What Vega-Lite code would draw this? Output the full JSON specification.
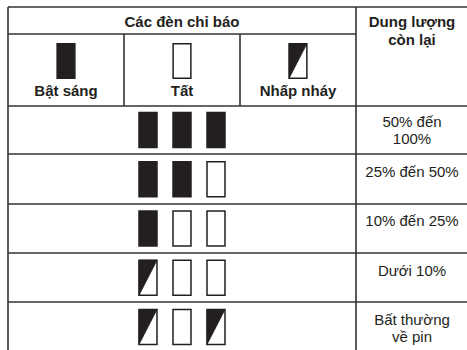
{
  "$schema": "https://vega.github.io/schema/vega-lite/v6.json",
  "width": 467,
  "height": 350,
  "autosize": "none",
  "padding": 0,
  "background": "#ffffff",
  "config": {"view": {"stroke": null}},
  "datasets": {
    "borders": [
      {"c1": 0, "c2": 4, "r1": 0, "r2": 0},
      {"c1": 0, "c2": 3, "r1": 1, "r2": 1},
      {"c1": 0, "c2": 4, "r1": 2, "r2": 2},
      {"c1": 0, "c2": 4, "r1": 3, "r2": 3},
      {"c1": 0, "c2": 4, "r1": 4, "r2": 4},
      {"c1": 0, "c2": 4, "r1": 5, "r2": 5},
      {"c1": 0, "c2": 4, "r1": 6, "r2": 6},
      {"c1": 0, "c2": 0, "r1": 0, "r2": 7},
      {"c1": 1, "c2": 1, "r1": 1, "r2": 2},
      {"c1": 2, "c2": 2, "r1": 1, "r2": 2},
      {"c1": 3, "c2": 3, "r1": 0, "r2": 7}
    ],
    "titles": [
      {"col": 1, "row": 0, "text": "Các đèn chỉ báo"},
      {"col": 3, "row": 0, "text": "Dung lượng\ncòn lại"}
    ],
    "legend": [
      {"col": 0, "row": 1, "state": "on", "label": "Bật sáng"},
      {"col": 1, "row": 1, "state": "off", "label": "Tất"},
      {"col": 2, "row": 1, "state": "blink", "label": "Nhấp nháy"}
    ],
    "levels": [
      {"col": 3, "row": 2, "text": "50% đến\n100%"},
      {"col": 3, "row": 3, "text": "25% đến 50%"},
      {"col": 3, "row": 4, "text": "10% đến 25%"},
      {"col": 3, "row": 5, "text": "Dưới 10%"},
      {"col": 3, "row": 6, "text": "Bất thường\nvề pin"}
    ],
    "lamps": [
      {"row": 2, "lamp": 1, "state": "on"},
      {"row": 2, "lamp": 2, "state": "on"},
      {"row": 2, "lamp": 3, "state": "on"},
      {"row": 3, "lamp": 1, "state": "on"},
      {"row": 3, "lamp": 2, "state": "on"},
      {"row": 3, "lamp": 3, "state": "off"},
      {"row": 4, "lamp": 1, "state": "on"},
      {"row": 4, "lamp": 2, "state": "off"},
      {"row": 4, "lamp": 3, "state": "off"},
      {"row": 5, "lamp": 1, "state": "blink"},
      {"row": 5, "lamp": 2, "state": "off"},
      {"row": 5, "lamp": 3, "state": "off"},
      {"row": 6, "lamp": 1, "state": "blink"},
      {"row": 6, "lamp": 2, "state": "off"},
      {"row": 6, "lamp": 3, "state": "blink"}
    ]
  },
  "layer": [
    {
      "data": {"name": "borders"},
      "mark": {"type": "rule", "stroke": "#333333", "strokeWidth": 1.6},
      "encoding": {
        "x": {"field": "c1", "type": "quantitative", "axis": null, "scale": {"domain": [0, 4], "range": [8, 472], "zero": false, "nice": false}},
        "x2": {"field": "c2"},
        "y": {"field": "r1", "type": "quantitative", "axis": null, "scale": {"domain": [0, 1, 2, 3, 4, 5, 6, 7], "range": [7, 34, 106, 154, 204, 253, 302, 351], "zero": false, "nice": false}},
        "y2": {"field": "r2"}
      }
    },
    {
      "data": {"name": "titles"},
      "mark": {"type": "text", "font": "Liberation Sans", "fontSize": 15, "fontWeight": "bold", "fill": "#231f20", "align": "center", "baseline": "alphabetic", "lineBreak": "\n", "lineHeight": 18},
      "encoding": {
        "x": {"field": "col", "type": "quantitative", "axis": null, "scale": {"domain": [0, 1, 2, 3], "range": [66, 182, 298, 412], "zero": false, "nice": false}},
        "y": {"field": "row", "type": "quantitative", "axis": null, "scale": {"domain": [0, 1, 2, 6], "range": [27, 96, 127, 325], "zero": false, "nice": false}},
        "text": {"field": "text", "type": "nominal"}
      }
    },
    {
      "data": {"name": "legend"},
      "mark": {"type": "text", "font": "Liberation Sans", "fontSize": 15, "fontWeight": "bold", "fill": "#231f20", "align": "center", "baseline": "alphabetic"},
      "encoding": {
        "x": {"field": "col", "type": "quantitative", "axis": null, "scale": {"domain": [0, 1, 2, 3], "range": [66, 182, 298, 412], "zero": false, "nice": false}},
        "y": {"field": "row", "type": "quantitative", "axis": null, "scale": {"domain": [0, 1, 2, 6], "range": [27, 96, 127, 325], "zero": false, "nice": false}},
        "text": {"field": "label", "type": "nominal"}
      }
    },
    {
      "data": {"name": "levels"},
      "mark": {"type": "text", "font": "Liberation Sans", "fontSize": 15, "fill": "#231f20", "align": "center", "baseline": "alphabetic", "lineBreak": "\n", "lineHeight": 17},
      "encoding": {
        "x": {"field": "col", "type": "quantitative", "axis": null, "scale": {"domain": [0, 1, 2, 3], "range": [66, 182, 298, 412], "zero": false, "nice": false}},
        "y": {"field": "row", "type": "quantitative", "axis": null, "scale": {"domain": [0, 1, 2, 6], "range": [27, 96, 127, 325], "zero": false, "nice": false}},
        "text": {"field": "text", "type": "nominal"}
      }
    },
    {
      "data": {"name": "legend"},
      "mark": {"type": "point", "shape": "M-0.514,-1H0.514V1H-0.514Z", "size": 1190, "filled": true, "stroke": "#231f20", "strokeWidth": 1.5, "opacity": 1},
      "encoding": {
        "x": {"field": "col", "type": "quantitative", "axis": null, "scale": {"domain": [0, 1, 2, 3], "range": [66, 182, 298, 412], "zero": false, "nice": false}},
        "y": {"field": "row", "type": "quantitative", "axis": null, "scale": {"domain": [1, 2, 6], "range": [61, 130, 327], "zero": false, "nice": false}},
        "fill": {"field": "state", "type": "nominal", "legend": null, "scale": {"domain": ["on", "off", "blink"], "range": ["#231f20", "#ffffff", "#ffffff"]}}
      }
    },
    {
      "data": {"name": "legend"},
      "transform": [{"filter": "datum.state === 'blink'"}],
      "mark": {"type": "point", "shape": "M-0.514,-1L0.514,-1L-0.514,1Z", "size": 1190, "filled": true, "fill": "#231f20", "stroke": "#231f20", "strokeWidth": 0.8, "opacity": 1},
      "encoding": {
        "x": {"field": "col", "type": "quantitative", "axis": null, "scale": {"domain": [0, 1, 2, 3], "range": [66, 182, 298, 412], "zero": false, "nice": false}},
        "y": {"field": "row", "type": "quantitative", "axis": null, "scale": {"domain": [1, 2, 6], "range": [61, 130, 327], "zero": false, "nice": false}}
      }
    },
    {
      "data": {"name": "lamps"},
      "mark": {"type": "point", "shape": "M-0.514,-1H0.514V1H-0.514Z", "size": 1225, "filled": true, "stroke": "#231f20", "strokeWidth": 1.5, "opacity": 1},
      "encoding": {
        "x": {"field": "lamp", "type": "quantitative", "axis": null, "scale": {"domain": [1, 3], "range": [148, 216], "zero": false, "nice": false}},
        "y": {"field": "row", "type": "quantitative", "axis": null, "scale": {"domain": [1, 2, 6], "range": [61, 130, 327], "zero": false, "nice": false}},
        "fill": {"field": "state", "type": "nominal", "legend": null, "scale": {"domain": ["on", "off", "blink"], "range": ["#231f20", "#ffffff", "#ffffff"]}}
      }
    },
    {
      "data": {"name": "lamps"},
      "transform": [{"filter": "datum.state === 'blink'"}],
      "mark": {"type": "point", "shape": "M-0.514,-1L0.514,-1L-0.514,1Z", "size": 1225, "filled": true, "fill": "#231f20", "stroke": "#231f20", "strokeWidth": 0.8, "opacity": 1},
      "encoding": {
        "x": {"field": "lamp", "type": "quantitative", "axis": null, "scale": {"domain": [1, 3], "range": [148, 216], "zero": false, "nice": false}},
        "y": {"field": "row", "type": "quantitative", "axis": null, "scale": {"domain": [1, 2, 6], "range": [61, 130, 327], "zero": false, "nice": false}}
      }
    }
  ],
  "resolve": {"scale": {"x": "independent", "y": "independent", "fill": "independent"}}
}
